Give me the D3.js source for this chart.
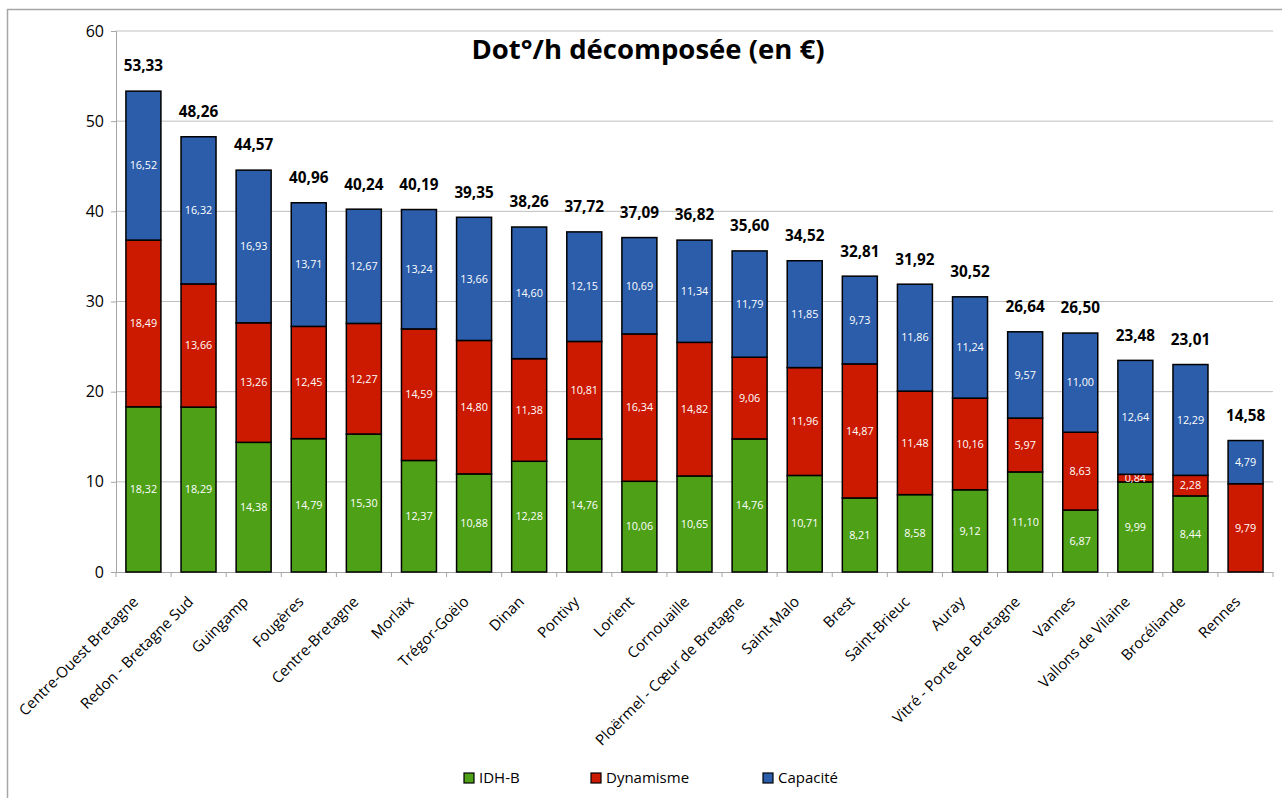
<!DOCTYPE html>
<html>
<head>
<meta charset="utf-8">
<script src="https://cdn.jsdelivr.net/npm/d3@7"></script>
<style>
  body { margin: 0; background: #fff; }
  svg { display: block; font-family: "Open Sans", Lato, sans-serif; }
</style>
</head>
<body>
<div id="chart"></div>
<script>
// données
const categories = ["Centre-Ouest Bretagne", "Redon - Bretagne Sud", "Guingamp", "Fougères", "Centre-Bretagne",
  "Morlaix", "Trégor-Goëlo", "Dinan", "Pontivy", "Lorient", "Cornouaille", "Ploërmel - Cœur de Bretagne",
  "Saint-Malo", "Brest", "Saint-Brieuc", "Auray", "Vitré - Porte de Bretagne", "Vannes", "Vallons de Vilaine",
  "Brocéliande", "Rennes"];
const idhb = [18.32, 18.29, 14.38, 14.79, 15.30, 12.37, 10.88, 12.28, 14.76, 10.06, 10.65, 14.76, 10.71, 8.21, 8.58, 9.12, 11.10, 6.87, 9.99, 8.44, 0];
const dynamisme = [18.49, 13.66, 13.26, 12.45, 12.27, 14.59, 14.80, 11.38, 10.81, 16.34, 14.82, 9.06, 11.96, 14.87, 11.48, 10.16, 5.97, 8.63, 0.84, 2.28, 9.79];
const capacite = [16.52, 16.32, 16.93, 13.71, 12.67, 13.24, 13.66, 14.60, 12.15, 10.69, 11.34, 11.79, 11.85, 9.73, 11.86, 11.24, 9.57, 11.00, 12.64, 12.29, 4.79];
const totals = [53.33, 48.26, 44.57, 40.96, 40.24, 40.19, 39.35, 38.26, 37.72, 37.09, 36.82, 35.60, 34.52, 32.81, 31.92, 30.52, 26.64, 26.50, 23.48, 23.01, 14.58];
const yTicks = [0, 10, 20, 30, 40, 50, 60];

const seriesNames = ["IDH-B", "Dynamisme", "Capacité"];
const colors = ["#4EA017", "#CC1A00", "#2B5DAA"];

const width = 1282, height = 798;
const margin = { top: 31, left: 116, right: 9, bottom: 226 };
const plotW = width - margin.left - margin.right;
const plotH = height - margin.top - margin.bottom;

const fmt = v => v.toFixed(2).replace(".", ",");

const rows = categories.map((c, i) => ({ cat: c, "IDH-B": idhb[i], "Dynamisme": dynamisme[i], "Capacité": capacite[i], total: totals[i] }));
const stacked = d3.stack().keys(seriesNames)(rows);

const svg = d3.select("#chart").append("svg")
  .attr("width", width).attr("height", height);

// cadre extérieur
svg.append("rect")
  .attr("x", 7.5).attr("y", 9.5)
  .attr("width", width + 10).attr("height", height + 10)
  .attr("fill", "none").attr("stroke", "#A6A6A6").attr("stroke-width", 1.5);

const g = svg.append("g").attr("transform", `translate(${margin.left},${margin.top})`);

const x = d3.scaleBand().domain(categories).range([0, plotW]).paddingInner(0.365).paddingOuter(0.18);
const y = d3.scaleLinear().domain([0, 60]).range([plotH, 0]);

// grille
g.selectAll(".grid").data(yTicks.filter(t => t > 0)).join("line")
  .attr("x1", 0).attr("x2", plotW)
  .attr("y1", d => y(d)).attr("y2", d => y(d))
  .attr("stroke", "#BFBFBF").attr("stroke-width", 1);

// axe Y
const yAxis = g.append("g").call(d3.axisLeft(y).tickValues(yTicks).tickSize(5).tickPadding(7));
yAxis.select(".domain").attr("stroke", "#A6A6A6");
yAxis.selectAll(".tick line").attr("stroke", "#A6A6A6");
yAxis.selectAll("text").attr("font-size", 16).attr("fill", "#000").attr("font-family", "'Open Sans', sans-serif");

// axe X
const bandStep = plotW / categories.length;
const xAxis = g.append("g").attr("transform", `translate(0,${plotH})`);
xAxis.append("line").attr("x1", 0).attr("x2", plotW).attr("y1", 0.5).attr("y2", 0.5).attr("stroke", "#A6A6A6");
xAxis.selectAll(".xt").data(d3.range(categories.length + 1)).join("line")
  .attr("x1", i => i * bandStep).attr("x2", i => i * bandStep)
  .attr("y1", 0).attr("y2", 5).attr("stroke", "#A6A6A6");

xAxis.selectAll(".cat").data(categories).join("text")
  .attr("transform", d => `translate(${x(d) + x.bandwidth() / 2 - 8},${27}) rotate(-45)`)
  .attr("text-anchor", "end")
  .attr("dy", "0.35em")
  .attr("font-size", 15)
  .text(d => d);

// barres
const layers = g.selectAll(".layer").data(stacked).join("g")
  .attr("fill", (d, i) => colors[i]);

layers.selectAll("rect").data(d => d.filter(p => p[1] - p[0] > 0)).join("rect")
  .attr("x", d => x(d.data.cat))
  .attr("y", d => y(d[1]))
  .attr("width", x.bandwidth())
  .attr("height", d => y(d[0]) - y(d[1]))
  .attr("stroke", "#000").attr("stroke-width", 1.5);

// étiquettes des segments
layers.selectAll("text").data(d => d.filter(p => p[1] - p[0] > 0)).join("text")
  .attr("x", d => x(d.data.cat) + x.bandwidth() / 2)
  .attr("y", d => (y(d[0]) + y(d[1])) / 2)
  .attr("dy", "0.35em")
  .attr("text-anchor", "middle")
  .attr("fill", "#fff")
  .attr("font-size", 10.8)
  .text(d => fmt(d[1] - d[0]));

// totaux
g.selectAll(".total").data(rows).join("text")
  .attr("x", d => x(d.cat) + x.bandwidth() / 2)
  .attr("y", d => y(d.total) - 25)
  .attr("dy", "0.35em")
  .attr("text-anchor", "middle")
  .attr("font-size", 15.3)
  .attr("font-weight", "bold")
  .text(d => fmt(d.total));

// titre
svg.append("text")
  .attr("x", 648).attr("y", 49)
  .attr("dy", "0.35em")
  .attr("text-anchor", "middle")
  .attr("font-size", 27.5)
  .attr("font-weight", "bold")
  .text("Dot°/h décomposée (en €)");

// légende
const legendX = [464, 591, 763];
const legend = svg.selectAll(".leg").data(seriesNames).join("g")
  .attr("transform", (d, i) => `translate(${legendX[i]},778)`);
legend.append("rect")
  .attr("x", 0).attr("y", -5).attr("width", 10).attr("height", 10)
  .attr("fill", (d, i) => colors[i]).attr("stroke", "#000").attr("stroke-width", 1.2);
legend.append("text")
  .attr("x", 15).attr("dy", "0.35em")
  .attr("font-size", 15)
  .text(d => d);
</script>
</body>
</html>
